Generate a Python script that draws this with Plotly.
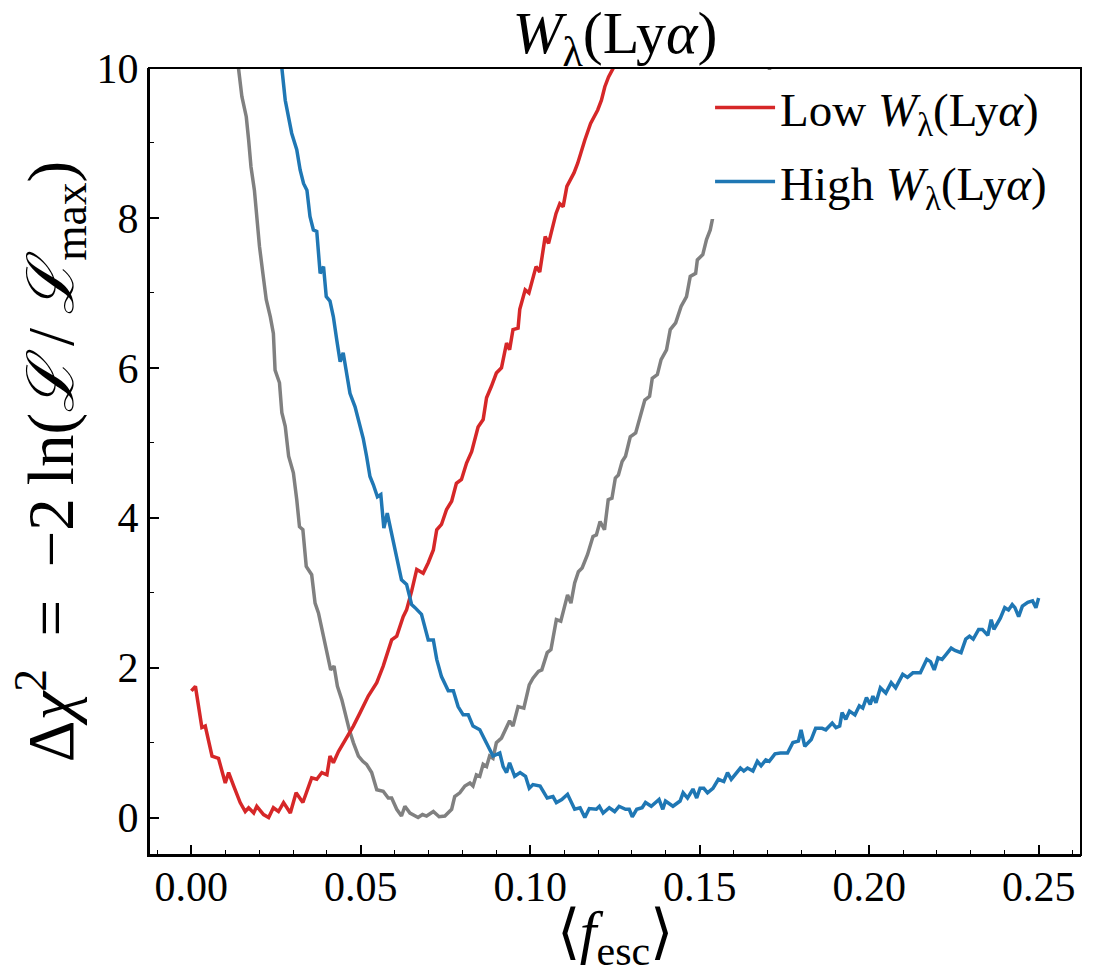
import plotly.graph_objects as go

# ---------------- data ----------------
low_f = [0.0, 0.0012, 0.0031, 0.0041, 0.0061, 0.008, 0.010, 0.011, 0.0125, 0.0144, 0.0159, 0.0169,
         0.0184, 0.0193, 0.0213, 0.0228, 0.0242, 0.0257, 0.0272, 0.0292, 0.0309, 0.0329, 0.0355, 0.037,
         0.0385, 0.04, 0.0409, 0.0419, 0.0434, 0.0453, 0.0478, 0.0498, 0.0522, 0.0547, 0.0566, 0.0591,
         0.0606, 0.0625, 0.0635, 0.065, 0.0665, 0.0684, 0.0699, 0.0714, 0.0724, 0.0738, 0.0753, 0.0768,
         0.0782, 0.0797, 0.0812, 0.0827, 0.0836, 0.0846, 0.0861, 0.0871, 0.0885, 0.09, 0.0915, 0.093,
         0.0939, 0.0949, 0.0964, 0.0969, 0.0985, 0.0996, 0.1017, 0.1028, 0.1044, 0.1054, 0.1076, 0.1087,
         0.1097, 0.1108, 0.1129, 0.114, 0.1161, 0.1178, 0.1199, 0.121, 0.122, 0.1231, 0.1245, 0.126]
low_v = [1.69, 1.75, 1.2, 1.22, 0.82, 0.79, 0.46, 0.6, 0.42, 0.2, 0.08, 0.13,
         0.06, 0.15, 0.04, 0.0, 0.13, 0.08, 0.2, 0.06, 0.33, 0.2, 0.53, 0.51,
         0.6, 0.57, 0.82, 0.73, 0.88, 1.02, 1.22, 1.4, 1.62, 1.8, 2.02, 2.37,
         2.42, 2.68, 2.77, 3.02, 3.31, 3.26, 3.4, 3.57, 3.84, 3.91, 4.11, 4.22,
         4.46, 4.51, 4.73, 4.88, 5.04, 5.21, 5.31, 5.6, 5.75, 5.93, 6.0, 6.33,
         6.24, 6.51, 6.53, 6.78, 7.04, 7.0, 7.35, 7.28, 7.75, 7.66, 8.06, 8.19,
         8.15, 8.42, 8.6, 8.73, 9.04, 9.26, 9.44, 9.57, 9.75, 9.88, 10.0, 10.2]

high_f = [0.0262, 0.0267, 0.0277, 0.0287, 0.0296, 0.0311, 0.0321, 0.0331, 0.0341, 0.035, 0.036, 0.037,
          0.0375, 0.038, 0.039, 0.0398, 0.0409, 0.0419, 0.0429, 0.0439, 0.0448, 0.0458, 0.0468, 0.0483,
          0.0493, 0.0507, 0.0517, 0.0527, 0.0537, 0.0549, 0.0559, 0.0568, 0.0578, 0.0591, 0.0601, 0.0611,
          0.062, 0.0635, 0.065, 0.066, 0.0679, 0.0699, 0.0714, 0.0724, 0.0738, 0.0758, 0.0773, 0.0787,
          0.0802, 0.0817, 0.0831, 0.0851, 0.0871, 0.089, 0.091, 0.092, 0.093, 0.0939, 0.0954, 0.097,
          0.0986, 0.0997, 0.1008, 0.1029, 0.105, 0.1067, 0.1077, 0.1093, 0.111, 0.1131, 0.1147, 0.1161,
          0.1174, 0.1195, 0.1204, 0.1215, 0.1233, 0.1249, 0.1262, 0.1281, 0.1292, 0.1301, 0.1314, 0.133,
          0.134, 0.1357, 0.138, 0.1391, 0.1399, 0.1421, 0.1442, 0.1451, 0.1464, 0.148, 0.1491, 0.1501,
          0.1512, 0.1523, 0.1539, 0.1555, 0.1571, 0.1582, 0.1593, 0.1614, 0.162, 0.163, 0.1641, 0.1657,
          0.167, 0.1681, 0.1695, 0.1705, 0.1722, 0.1738, 0.1759, 0.1775, 0.1791, 0.1799, 0.181, 0.1829,
          0.1842, 0.1861, 0.1872, 0.1891, 0.1902, 0.1913, 0.192, 0.1931, 0.1942, 0.1958, 0.1971, 0.1981,
          0.1992, 0.2003, 0.2011, 0.202, 0.2033, 0.2049, 0.2065, 0.2078, 0.2099, 0.2113, 0.2129, 0.2151,
          0.217, 0.2181, 0.2192, 0.2203, 0.2215, 0.2226, 0.2242, 0.2253, 0.2271, 0.2285, 0.2296, 0.2307,
          0.2323, 0.2334, 0.235, 0.236, 0.2368, 0.2387, 0.24, 0.2411, 0.2422, 0.243, 0.2441, 0.2452,
          0.2468, 0.2482, 0.2492, 0.25]
high_v = [10.4, 10.0, 9.57, 9.35, 9.13, 8.91, 8.64, 8.46, 8.37, 8.02, 7.84, 7.82,
          7.48, 7.26, 7.35, 6.95, 6.89, 6.68, 6.37, 6.08, 6.2, 5.93, 5.66, 5.48,
          5.31, 5.06, 4.82, 4.55, 4.44, 4.28, 4.31, 3.86, 4.06, 3.8, 3.57, 3.4,
          3.17, 3.11, 2.84, 2.8, 2.71, 2.37, 2.37, 2.11, 1.88, 1.69, 1.69, 1.48,
          1.37, 1.37, 1.22, 1.17, 1.0, 0.82, 0.86, 0.68, 0.6, 0.73, 0.55, 0.6,
          0.55, 0.39, 0.44, 0.42, 0.26, 0.28, 0.2, 0.24, 0.31, 0.11, 0.13, 0.0,
          0.12, 0.11, 0.15, 0.06, 0.13, 0.08, 0.15, 0.11, 0.11, 0.01, 0.11, 0.13,
          0.2, 0.15, 0.24, 0.11, 0.22, 0.15, 0.22, 0.33, 0.26, 0.38, 0.26, 0.39,
          0.39, 0.33, 0.39, 0.51, 0.48, 0.6, 0.51, 0.62, 0.66, 0.62, 0.66, 0.62,
          0.75, 0.69, 0.77, 0.75, 0.85, 0.86, 0.86, 1.0, 1.02, 1.17, 0.95, 1.04,
          1.19, 1.19, 1.17, 1.26, 1.2, 1.22, 1.4, 1.31, 1.42, 1.37, 1.49, 1.46,
          1.6, 1.51, 1.62, 1.53, 1.73, 1.66, 1.8, 1.73, 1.91, 1.87, 1.93, 1.93,
          2.11, 2.08, 1.97, 2.13, 2.11, 2.17, 2.26, 2.23, 2.2, 2.38, 2.42, 2.38,
          2.51, 2.51, 2.43, 2.64, 2.51, 2.66, 2.8, 2.77, 2.84, 2.8, 2.68, 2.82,
          2.87, 2.89, 2.8, 2.93]

all_f = [0.0132, 0.0139, 0.0149, 0.0162, 0.0169, 0.0176, 0.0186, 0.0193, 0.0201, 0.0211, 0.0221, 0.0233,
         0.0242, 0.0247, 0.026, 0.0267, 0.0277, 0.0287, 0.0292, 0.0301, 0.0311, 0.0319, 0.0329, 0.0339,
         0.0355, 0.0365, 0.0375, 0.0385, 0.0395, 0.0404, 0.0411, 0.0421, 0.0431, 0.0444, 0.0453, 0.0466,
         0.0478, 0.0493, 0.0506, 0.0517, 0.0532, 0.0547, 0.0566, 0.0581, 0.0591, 0.0606, 0.062, 0.063,
         0.0645, 0.0669, 0.0682, 0.0694, 0.0714, 0.0731, 0.0748, 0.0768, 0.0777, 0.0792, 0.0807, 0.0822,
         0.0831, 0.0841, 0.0851, 0.0861, 0.0871, 0.088, 0.089, 0.09, 0.0915, 0.093, 0.0939, 0.0949,
         0.0964, 0.0981, 0.0997, 0.1008, 0.1024, 0.1034, 0.105, 0.1061, 0.1077, 0.109, 0.1104, 0.111,
         0.112, 0.1131, 0.1142, 0.1153, 0.1169, 0.1185, 0.1195, 0.1206, 0.1219, 0.123, 0.1241, 0.1251,
         0.126, 0.1271, 0.1281, 0.1295, 0.1311, 0.1327, 0.1338, 0.1352, 0.136, 0.1375, 0.1386, 0.1402,
         0.1413, 0.1429, 0.1445, 0.1461, 0.1472, 0.1488, 0.1493, 0.1509, 0.152, 0.1531, 0.1541, 0.1555,
         0.157, 0.160, 0.163, 0.166, 0.1684, 0.1697, 0.1707, 0.1715]
all_v = [10.5, 10.0, 9.62, 9.35, 9.04, 8.68, 8.37, 8.02, 7.62, 7.26, 6.91, 6.68,
         6.46, 5.97, 5.8, 5.4, 5.22, 4.82, 4.73, 4.6, 4.24, 3.88, 3.84, 3.35,
         3.24, 2.86, 2.73, 2.51, 2.33, 2.15, 1.97, 2.02, 1.75, 1.57, 1.4, 1.17,
         1.0, 0.82, 0.75, 0.71, 0.6, 0.37, 0.35, 0.26, 0.26, 0.11, 0.02, 0.15,
         0.06, 0.0, 0.04, 0.02, 0.08, 0.01, 0.02, 0.11, 0.28, 0.33, 0.42, 0.46,
         0.42, 0.57, 0.55, 0.71, 0.68, 0.82, 0.79, 1.0, 1.06, 1.22, 1.29, 1.22,
         1.48, 1.46, 1.77, 1.86, 1.95, 1.97, 2.2, 2.24, 2.64, 2.62, 2.86, 2.97,
         2.86, 3.13, 3.28, 3.33, 3.51, 3.75, 3.77, 3.95, 3.84, 4.24, 4.26, 4.53,
         4.57, 4.75, 4.82, 5.08, 5.13, 5.4, 5.57, 5.62, 5.86, 5.91, 6.11, 6.24,
         6.51, 6.6, 6.82, 6.95, 7.22, 7.26, 7.44, 7.51, 7.71, 7.84, 8.06, 8.15,
         8.2, 8.55, 8.95, 9.35, 9.76, 9.82, 10.0, 10.3]

x_ticks = [0.00, 0.05, 0.10, 0.15, 0.20, 0.25]
x_tick_labels = ["0.00", "0.05", "0.10", "0.15", "0.20", "0.25"]
y_ticks = [0, 2, 4, 6, 8, 10]
y_tick_labels = ["0", "2", "4", "6", "8", "10"]

FONT = "Liberation Serif"
WL = "<i>W</i><sub>λ</sub>(Ly<i>α</i>)"
SP = "\u2002"
TH = "\u2009"

fig = go.Figure()
fig.add_trace(go.Scatter(x=all_f, y=all_v, mode="lines", showlegend=False,
                         line=dict(color="#808080", width=3.5)))
fig.add_trace(go.Scatter(x=low_f, y=low_v, mode="lines", name="Low " + WL, legendgroup="a",
                         line=dict(color="#d62728", width=3.5)))
fig.add_trace(go.Scatter(x=high_f, y=high_v, mode="lines", name="High " + WL, legendgroup="b",
                         line=dict(color="#1f77b4", width=3.5)))

axis_common = dict(
    showgrid=False, zeroline=False, showline=True, linecolor="black", linewidth=2,
    mirror=False, automargin=False, ticks="inside", tickcolor="black", tickwidth=1.5, ticklen=10,
    tickfont=dict(family=FONT, size=42, color="black"),
)

fig.update_xaxes(
    range=[-0.0125, 0.2625], tickvals=x_ticks, ticktext=x_tick_labels,
    minor=dict(ticks="inside", dtick=0.01, tick0=0, ticklen=5, tickwidth=1.2, tickcolor="black"),
    title=dict(text="⟨<i>f</i><sub>esc</sub>⟩", font=dict(family=FONT, size=60, color="black"), standoff=4),
    ticklabelstandoff=-6,
    **axis_common,
)
fig.update_yaxes(
    range=[-0.5, 10], tickvals=y_ticks, ticktext=y_tick_labels,
    minor=dict(ticks="inside", dtick=1, tick0=0, ticklen=5, tickwidth=1.2, tickcolor="black"),
    title=dict(text="Δ<i>χ</i><sup>2</sup>" + SP + "=" + SP + "−2" + TH + "ln(<i>ℒ</i>"
               + TH + "/" + TH + "<i>ℒ</i><sub>max</sub>)",
               font=dict(family=FONT, size=65, color="black"), standoff=2),
    ticklabelstandoff=0,
    **axis_common,
)

fig.add_shape(type="rect", xref="paper", yref="paper", x0=0, x1=1, y0=0, y1=1,
              line=dict(color="black", width=2), fillcolor="rgba(0,0,0,0)", layer="above")

fig.update_layout(
    width=1096, height=974,
    margin=dict(l=149, r=15, t=68, b=119, autoexpand=False),
    paper_bgcolor="white", plot_bgcolor="white",
    title=dict(text=WL, x=0.5, xref="paper", xanchor="center", yref="container", y=1 - 32 / 974,
               yanchor="middle", font=dict(family=FONT, size=60, color="black")),
    legend=dict(x=0.602, xanchor="left", y=0.997, yanchor="top", bgcolor="white", borderwidth=0,
                font=dict(family=FONT, size=47, color="black"), traceorder="grouped",
                tracegroupgap=10, itemwidth=60),
)

fig.write_html("out.html", config={"displayModeBar": False},
               post_script="document.body.style.margin='0';document.body.style.overflow='hidden';")
